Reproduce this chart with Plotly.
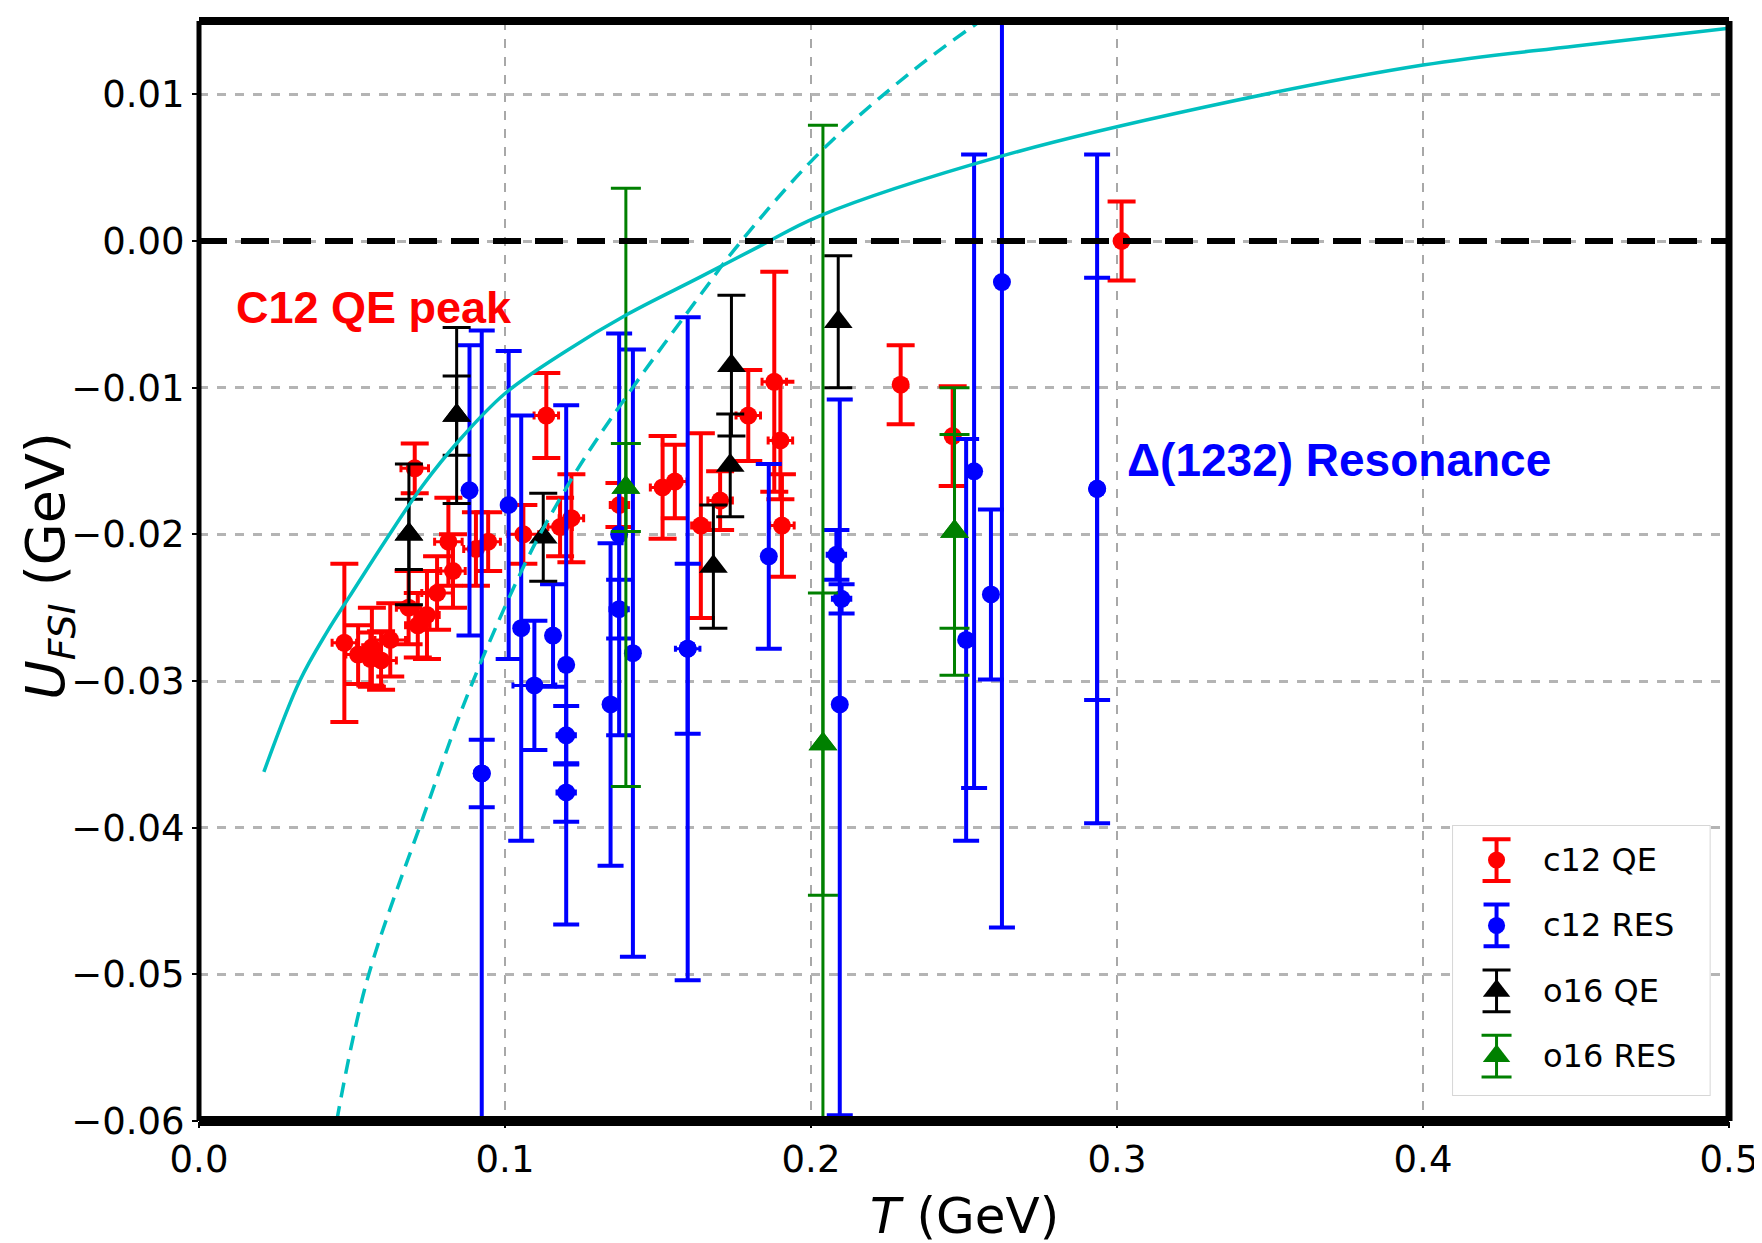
import plotly.graph_objects as go

# ---------------- data ----------------
# c12 QE (red circles)
c12_qe_T = [0.0475, 0.052, 0.056, 0.0595, 0.0625, 0.0565, 0.0685, 0.0715, 0.0745, 0.0778,
            0.0705, 0.0815, 0.083, 0.0905, 0.0945, 0.1135, 0.106, 0.1217, 0.118, 0.1374,
            0.1515, 0.1555, 0.164, 0.1703, 0.1795, 0.188, 0.190, 0.1905, 0.2293, 0.2463, 0.3015]
c12_qe_U = [-0.0274, -0.0282, -0.0285, -0.0286, -0.0272, -0.0277, -0.0250, -0.0262, -0.0255, -0.0240,
            -0.0155, -0.0205, -0.0225, -0.0210, -0.0205, -0.0119, -0.0200, -0.0189, -0.0195, -0.0180,
            -0.0168, -0.0164, -0.0194, -0.0177, -0.0119, -0.0096, -0.0136, -0.0194, -0.0098, -0.0133, 0.0000]
c12_qe_dU = [0.0054, 0.0020, 0.0018, 0.0020, 0.0025, 0.0027, 0.0025, 0.0022, 0.0030, 0.0025,
             0.0017, 0.0030, 0.0025, 0.0025, 0.0020, 0.0029, 0.0020, 0.0030, 0.0020, 0.0015,
             0.0035, 0.0025, 0.0063, 0.0020, 0.0031, 0.0075, 0.0040, 0.0035, 0.0027, 0.0034, 0.0027]
c12_qe_dT = [0.004, 0.004, 0.004, 0.005, 0.005, 0.003, 0.004, 0.004, 0.004, 0.005,
             0.0045, 0.0045, 0.004, 0.004, 0.004, 0.004, 0.005, 0.004, 0.004, 0.003,
             0.004, 0.004, 0.003, 0.004, 0.004, 0.004, 0.004, 0.004, 0.0, 0.0, 0.0]

# c12 RES (blue circles)
c12_res_T = [0.0884, 0.0924, 0.0924, 0.1012, 0.1053, 0.1096, 0.1157, 0.1200, 0.1200, 0.1200,
             0.1345, 0.1373, 0.1373, 0.1418, 0.1597, 0.1597, 0.1862, 0.2083, 0.2094, 0.2100,
             0.2507, 0.2533, 0.2588, 0.2624, 0.2935, 0.2935]
c12_res_U = [-0.0170, -0.0363, -0.0363, -0.0180, -0.0264, -0.0303, -0.0269, -0.0289, -0.0337, -0.0376,
             -0.0316, -0.0200, -0.0251, -0.0281, -0.0278, -0.0278, -0.0215, -0.0214, -0.0316, -0.0244,
             -0.0272, -0.0157, -0.0241, -0.0028, -0.0169, -0.0169]
c12_res_dU_up = [0.0099, 0.0302, 0.0023, 0.0105, 0.0145, 0.0044, 0.0035, 0.0177, 0.0020, 0.0020,
                 0.0110, 0.0137, 0.0020, 0.0207, 0.0226, 0.0058, 0.0063, 0.0017, 0.0208, 0.0010,
                 0.0137, 0.0216, 0.0058, 0.0440, 0.0228, 0.0144]
c12_res_dU_down = [0.0099, 0.0302, 0.0023, 0.0105, 0.0145, 0.0044, 0.0035, 0.0177, 0.0020, 0.0020,
                   0.0110, 0.0137, 0.0020, 0.0207, 0.0226, 0.0058, 0.0063, 0.0017, 0.0280, 0.0010,
                   0.0137, 0.0216, 0.0058, 0.0440, 0.0228, 0.0144]
c12_res_dT = [0.0, 0.0, 0.0, 0.0, 0.0, 0.007, 0.0, 0.0, 0.003, 0.003,
              0.0, 0.0, 0.003, 0.0, 0.0, 0.004, 0.0, 0.003, 0.0, 0.003,
              0.0, 0.0, 0.0, 0.0, 0.0, 0.0]

# o16 QE (black triangles)
o16_qe_T = [0.0686, 0.0686, 0.0842, 0.0842, 0.1125, 0.1681, 0.1736, 0.1740, 0.2089]
o16_qe_U = [-0.0200, -0.0200, -0.0119, -0.0119, -0.0202, -0.0222, -0.0153, -0.0085, -0.0055]
o16_qe_dU = [0.0048, 0.0024, 0.0060, 0.0027, 0.0030, 0.0042, 0.0035, 0.0048, 0.0045]

# o16 RES (green triangles)
o16_res_T = [0.1395, 0.1395, 0.2039, 0.2039, 0.2469, 0.2469]
o16_res_U = [-0.0168, -0.0168, -0.0343, -0.0343, -0.0198, -0.0198]
o16_res_dU = [0.0204, 0.0030, 0.0422, 0.0103, 0.0098, 0.0066]

# cyan model curves
model_solid_T = [0.0212, 0.0329, 0.042, 0.049, 0.0607, 0.073, 0.085, 0.100, 0.120, 0.140,
                 0.1634, 0.1828, 0.2027, 0.2625, 0.328, 0.400, 0.450, 0.500]
model_solid_U = [-0.0362, -0.0300, -0.0266, -0.0243, -0.0205, -0.0167, -0.0136, -0.0104, -0.0075, -0.0050,
                 -0.0025, -0.0004, 0.0017, 0.0058, 0.0091, 0.0120, 0.0133, 0.0145]
model_dash_T = [0.045, 0.0548, 0.0734, 0.0886, 0.107, 0.1168, 0.126, 0.1417, 0.1645, 0.1753,
                0.2027, 0.2326, 0.2588, 0.270]
model_dash_U = [-0.0600, -0.0505, -0.0392, -0.0305, -0.0218, -0.0180, -0.0148, -0.0100, -0.0035, -0.0005,
                0.0060, 0.0115, 0.0155, 0.0170]

x_ticks = [0.0, 0.1, 0.2, 0.3, 0.4, 0.5]
y_ticks = [-0.06, -0.05, -0.04, -0.03, -0.02, -0.01, 0.00, 0.01]

legend_labels = ["c12 QE", "c12 RES", "o16 QE", "o16 RES"]

# ---------------- styles ----------------
RED, BLUE, BLACK, GREEN, CYAN = "#ff0000", "#0000ff", "#000000", "#008000", "#00bfbf"
series_styles = [
    dict(color=RED, symbol="circle", size=18, thick=4, cap=14),
    dict(color=BLUE, symbol="circle", size=18, thick=4, cap=13),
    dict(color=BLACK, symbol="triangle-up", size=25, thick=3, cap=14),
    dict(color=GREEN, symbol="triangle-up", size=25, thick=3, cap=15),
]

fig = go.Figure()

s = series_styles[0]
fig.add_trace(go.Scatter(
    x=c12_qe_T, y=c12_qe_U, mode="markers", name=legend_labels[0], showlegend=False,
    marker=dict(color=s["color"], size=s["size"], symbol=s["symbol"]),
    error_y=dict(type="data", array=c12_qe_dU, color=s["color"], thickness=s["thick"], width=s["cap"]),
    error_x=dict(type="data", array=c12_qe_dT, color=s["color"], thickness=3, width=4),
))
s = series_styles[1]
fig.add_trace(go.Scatter(
    x=c12_res_T, y=c12_res_U, mode="markers", name=legend_labels[1], showlegend=False,
    marker=dict(color=s["color"], size=s["size"], symbol=s["symbol"]),
    error_y=dict(type="data", symmetric=False, array=c12_res_dU_up, arrayminus=c12_res_dU_down,
                 color=s["color"], thickness=s["thick"], width=s["cap"]),
    error_x=dict(type="data", array=c12_res_dT, color=s["color"], thickness=3, width=3),
))
s = series_styles[2]
fig.add_trace(go.Scatter(
    x=o16_qe_T, y=o16_qe_U, mode="markers", name=legend_labels[2], showlegend=False,
    marker=dict(color=s["color"], size=s["size"], symbol=s["symbol"]),
    error_y=dict(type="data", array=o16_qe_dU, color=s["color"], thickness=s["thick"], width=s["cap"]),
))
s = series_styles[3]
fig.add_trace(go.Scatter(
    x=o16_res_T, y=o16_res_U, mode="markers", name=legend_labels[3], showlegend=False,
    marker=dict(color=s["color"], size=s["size"], symbol=s["symbol"]),
    error_y=dict(type="data", array=o16_res_dU, color=s["color"], thickness=s["thick"], width=s["cap"]),
))
fig.add_trace(go.Scatter(
    x=model_solid_T, y=model_solid_U, mode="lines", showlegend=False,
    line=dict(color=CYAN, width=3.5, shape="spline", smoothing=1.0),
))
fig.add_trace(go.Scatter(
    x=model_dash_T, y=model_dash_U, mode="lines", showlegend=False,
    line=dict(color=CYAN, width=3.5, dash="15px,9px", shape="spline", smoothing=1.0),
))

# zero reference line
fig.add_shape(type="line", xref="paper", yref="y", x0=0, x1=1, y0=0, y1=0,
              line=dict(color="black", width=6, dash="28px,14px"), layer="above")

# thick frame
frame = dict(type="line", xref="paper", yref="paper", layer="above")
fig.add_shape(**frame, x0=0, x1=0, y0=0, y1=1, line=dict(color="black", width=5))
fig.add_shape(**frame, x0=1, x1=1, y0=0, y1=1, line=dict(color="black", width=7))
fig.add_shape(**frame, x0=0, x1=1, y0=0, y1=0, line=dict(color="black", width=10))
fig.add_shape(**frame, x0=0, x1=1, y0=1, y1=1, line=dict(color="black", width=8))

fig.add_annotation(x=0.0115, y=-0.0045, xref="x", yref="y", text="<b>C12 QE peak</b>",
                   showarrow=False, xanchor="left", yanchor="middle",
                   font=dict(family="Liberation Sans", size=45, color=RED))
fig.add_annotation(x=0.3025, y=-0.0149, xref="x", yref="y", text="<b>Δ(1232) Resonance</b>",
                   showarrow=False, xanchor="left", yanchor="middle",
                   font=dict(family="Liberation Sans", size=46, color=BLUE))

# axis titles
fig.add_annotation(x=-0.0985, y=0.505, xref="paper", yref="paper", textangle=-90,
                   text="<i>U</i><sub><i>FSI</i></sub> (GeV)", showarrow=False,
                   xanchor="center", yanchor="middle",
                   font=dict(family="DejaVu Sans", size=54, color="black"))
fig.add_annotation(x=0.5, y=-0.086, xref="paper", yref="paper",
                   text="<i>T</i> (GeV)", showarrow=False,
                   xanchor="center", yanchor="middle",
                   font=dict(family="DejaVu Sans", size=50, color="black"))

# ---------------- legend (drawn in its own small axes box) ----------------
legend_y = [0.871 - i * 0.2413 for i in range(len(legend_labels))]
fig.add_shape(type="rect", xref="x2", yref="y2", x0=0, x1=1, y0=0, y1=1, layer="below",
              fillcolor="rgba(255,255,255,0.82)", line=dict(color="#d6d6d6", width=2))
for lab, ly, st in zip(legend_labels, legend_y, series_styles):
    fig.add_trace(go.Scatter(
        x=[0.172], y=[ly], xaxis="x2", yaxis="y2", mode="markers", showlegend=False,
        hoverinfo="skip",
        marker=dict(color=st["color"], size=st["size"] * 0.95, symbol=st["symbol"]),
        error_y=dict(type="data", array=[0.077], color=st["color"], thickness=st["thick"],
                     width=st["cap"]),
    ))
    fig.add_annotation(x=0.343, y=ly, xref="x2", yref="y2", text=lab, showarrow=False,
                       xanchor="left", yanchor="middle",
                       font=dict(family="DejaVu Sans", size=32, color="black"))

tickfont = dict(family="DejaVu Sans", size=37, color="black")
fig.update_layout(
    xaxis=dict(range=[0, 0.5], tickvals=x_ticks, tickformat=".1f", showgrid=True,
               gridcolor="#a8a8a8", gridwidth=1.5, griddash="dash", zeroline=False,
               ticks="outside", ticklen=6, tickwidth=2, tickcolor="black",
               tickfont=tickfont, showline=False),
    yaxis=dict(range=[-0.06, 0.015], tickvals=y_ticks, tickformat=".2f", showgrid=True,
               gridcolor="#b4b4b4", gridwidth=3, griddash="dash", zeroline=False,
               ticks="outside", ticklen=6, tickwidth=2, tickcolor="black",
               tickfont=tickfont, showline=False),
    xaxis2=dict(domain=[0.819, 0.988], range=[0, 1], visible=False, anchor="y2",
                fixedrange=True),
    yaxis2=dict(domain=[0.0227, 0.269], range=[0, 1], visible=False, anchor="x2",
                fixedrange=True),
    width=1762, height=1243,
    margin=dict(l=191, r=34, t=13, b=130),
    paper_bgcolor="white", plot_bgcolor="white",
    font=dict(family="DejaVu Sans", color="black"),
    showlegend=False,
)

fig.write_html("out.html")
